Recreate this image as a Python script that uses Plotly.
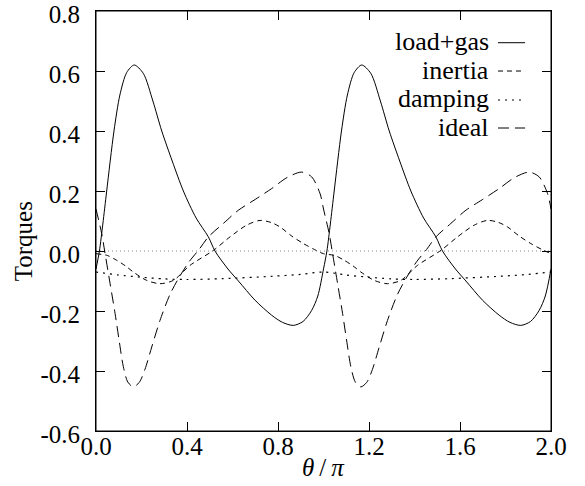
import plotly.graph_objects as go

# ---- data (theta/pi on x) ----
load_x = [0.000, 0.015, 0.030, 0.047, 0.079, 0.105, 0.135, 0.168, 0.208, 0.250, 0.289, 0.335, 0.384, 0.440, 0.494,
          0.523, 0.580, 0.626, 0.699, 0.772, 0.820, 0.867, 0.910, 0.948, 0.975,
          1.000, 1.015, 1.030, 1.047, 1.079, 1.105, 1.135, 1.168, 1.208, 1.250, 1.289, 1.335, 1.384, 1.440, 1.494,
          1.523, 1.580, 1.626, 1.699, 1.772, 1.820, 1.867, 1.910, 1.948, 1.975, 2.000]
load_y = [-0.060, 0.000, 0.090, 0.200, 0.400, 0.520, 0.595, 0.620, 0.592, 0.500, 0.400, 0.300, 0.200, 0.110, 0.047,
          0.000, -0.060, -0.100, -0.164, -0.214, -0.238, -0.248, -0.235, -0.198, -0.150,
          -0.060, 0.000, 0.090, 0.200, 0.400, 0.520, 0.595, 0.620, 0.592, 0.500, 0.400, 0.300, 0.200, 0.110, 0.047,
          0.000, -0.060, -0.100, -0.164, -0.214, -0.238, -0.248, -0.235, -0.198, -0.150, -0.060]

inertia_x = [0.000, 0.050, 0.091, 0.130, 0.164, 0.223, 0.281, 0.340, 0.413, 0.516, 0.589, 0.662, 0.721, 0.770,
             0.809, 0.860, 0.911, 0.960,
             1.000, 1.050, 1.091, 1.130, 1.164, 1.223, 1.281, 1.340, 1.413, 1.516, 1.589, 1.662, 1.721, 1.770,
             1.809, 1.860, 1.911, 1.960, 2.000]
inertia_y = [-0.009, -0.015, -0.031, -0.050, -0.070, -0.098, -0.109, -0.098, -0.048, 0.002, 0.047, 0.086, 0.102, 0.095,
             0.080, 0.050, 0.025, 0.005,
             -0.009, -0.015, -0.031, -0.050, -0.070, -0.098, -0.109, -0.098, -0.048, 0.002, 0.047, 0.086, 0.102, 0.095,
             0.080, 0.050, 0.025, 0.005, -0.009]

damping_x = [0.000, 0.100, 0.193, 0.300, 0.400, 0.560, 0.780, 0.900,
             1.000, 1.100, 1.193, 1.300, 1.400, 1.560, 1.780, 1.900, 2.000]
damping_y = [-0.070, -0.080, -0.087, -0.093, -0.095, -0.092, -0.084, -0.078,
             -0.070, -0.080, -0.087, -0.093, -0.095, -0.092, -0.084, -0.078, -0.070]

ideal_x = [0.000, 0.025, 0.040, 0.062, 0.084, 0.103, 0.120, 0.140, 0.164, 0.190, 0.215, 0.245, 0.281, 0.325, 0.366,
           0.410, 0.453, 0.494, 0.560, 0.626, 0.700, 0.772, 0.840, 0.904, 0.948, 0.985,
           1.000, 1.025, 1.040, 1.062, 1.084, 1.103, 1.120, 1.140, 1.164, 1.190, 1.215, 1.245, 1.281, 1.325, 1.366,
           1.410, 1.453, 1.494, 1.560, 1.626, 1.700, 1.772, 1.840, 1.904, 1.948, 1.985, 2.000]
ideal_y = [0.140, 0.058, -0.009, -0.109, -0.209, -0.305, -0.385, -0.437, -0.453, -0.438, -0.395, -0.320, -0.232, -0.145, -0.087,
           -0.035, 0.005, 0.047, 0.092, 0.136, 0.172, 0.208, 0.245, 0.263, 0.247, 0.191,
           0.140, 0.058, -0.009, -0.109, -0.209, -0.305, -0.385, -0.437, -0.453, -0.438, -0.395, -0.320, -0.232, -0.145, -0.087,
           -0.035, 0.005, 0.047, 0.092, 0.136, 0.172, 0.208, 0.245, 0.263, 0.247, 0.191, 0.140]

x_ticks = [0.0, 0.4, 0.8, 1.2, 1.6, 2.0]
x_ticktext = ["0.0", "0.4", "0.8", "1.2", "1.6", "2.0"]
y_ticks = [-0.6, -0.4, -0.2, 0.0, 0.2, 0.4, 0.6, 0.8]
y_ticktext = ["-0.6", "-0.4", "-0.2", "0.0", "0.2", "0.4", "0.6", "0.8"]

series_names = ["load+gas", "inertia", "damping", "ideal"]

FONT = "Liberation Serif"
FS = 25
LFS = 26
dashes = ["solid", "5px,4px", "2px,5px", "11px,6px"]
widths = [1, 1, 1.2, 1]

fig = go.Figure()
for name, xs, ys, d, w in zip(series_names,
                              [load_x, inertia_x, damping_x, ideal_x],
                              [load_y, inertia_y, damping_y, ideal_y], dashes, widths):
    fig.add_trace(go.Scatter(x=xs, y=ys, mode="lines", name=name, showlegend=False,
                             line=dict(color="black", width=w, dash=d, shape="spline", smoothing=0.8)))

# invisible trace to carry the top (mirrored) x axis ticks
fig.add_trace(go.Scatter(x=[0, 2], y=[0, 0], xaxis="x2", mode="lines", showlegend=False,
                         line=dict(color="rgba(0,0,0,0)"), hoverinfo="skip"))

# dotted zero axis
fig.add_shape(type="line", xref="paper", yref="y", x0=0, x1=1, y0=0, y1=0,
              line=dict(color="#888888", width=1, dash="1px,3px"), layer="below")
# plot frame
fig.add_shape(type="rect", xref="paper", yref="paper", x0=0, x1=1, y0=0, y1=1,
              line=dict(color="black", width=1), fillcolor="rgba(0,0,0,0)", layer="above")

# manual legend (text left, sample right)
leg_rows = [0.9245, 0.8571, 0.7881, 0.7214]
for name, d, w, ly in zip(series_names, dashes, widths, leg_rows):
    fig.add_annotation(x=0.8615, y=ly, xref="paper", yref="paper", text=name, showarrow=False,
                       xanchor="right", yanchor="middle", xshift=3, yshift=1,
                       font=dict(family=FONT, size=LFS, color="black"))
    fig.add_shape(type="line", xref="paper", yref="paper", x0=0.8835, x1=0.943, y0=ly, y1=ly,
                  line=dict(color="black", width=w, dash=d))

# axis titles
fig.add_annotation(x=0.499, y=-0.088, xref="paper", yref="paper", text="<i>θ</i>\u2009/\u2009<i>π</i>", showarrow=False,
                   xanchor="center", yanchor="middle", font=dict(family=FONT, size=FS, color="black"))
fig.add_annotation(x=-0.159, y=0.451, xref="paper", yref="paper", text="Torques", showarrow=False, textangle=-90,
                   xanchor="center", yanchor="middle", font=dict(family=FONT, size=FS, color="black"))

axis_common = dict(showline=True, linecolor="black", linewidth=1, mirror="ticks", ticks="inside",
                   ticklen=9, tickcolor="black", tickwidth=1, showgrid=False, zeroline=False,
                   ticklabeloverflow="allow",
                   tickfont=dict(family=FONT, size=FS, color="black"))
fig.update_xaxes(range=[0, 2], tickvals=x_ticks, ticktext=x_ticktext, ticklabelstandoff=-7, **axis_common)
fig.update_yaxes(range=[-0.6, 0.8], tickvals=y_ticks, ticktext=y_ticktext, ticklabelstandoff=10,
                 ticklabelshift=3, **axis_common)

fig.update_layout(width=585, height=486, margin=dict(l=96, r=34, t=11, b=55, autoexpand=False),
                  plot_bgcolor="white", paper_bgcolor="white",
                  font=dict(family=FONT, size=FS, color="black"),
                  xaxis2=dict(overlaying="x", side="top", range=[0, 2], tickvals=x_ticks, showticklabels=False,
                              ticks="inside", ticklen=9, tickcolor="black", tickwidth=1, showline=True,
                              linecolor="black", showgrid=False, zeroline=False))

fig.write_html("out.html", config={"displayModeBar": False},
               post_script="document.body.style.margin='0';document.body.style.overflow='hidden';")
